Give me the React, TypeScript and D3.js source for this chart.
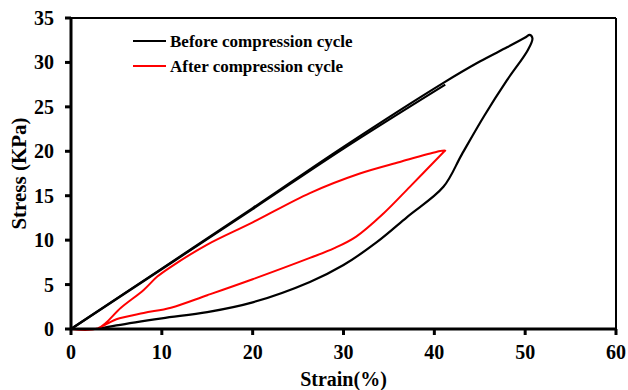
import React from 'react';
import * as d3 from 'd3';

// strain (%) , stress (KPa)
const beforeStrain = [0, 10, 20, 30, 41, 45, 48, 50, 50.5, 50.8, 50.3, 48, 45.5, 43, 41, 37, 33.7, 30, 26.3, 20, 15, 10, 5, 3];
const beforeStress = [0, 6.8, 13.6, 20.5, 27.7, 30.1, 31.7, 32.8, 33.1, 32.7, 31.4, 28, 24, 19.6, 16, 12.6, 9.8, 7.2, 5.3, 3, 1.9, 1.2, 0.4, 0];

const reloadStrain = [0, 20, 30, 41.2];
const reloadStress = [0, 13.5, 20.3, 27.5];

const afterStrain = [0, 3, 5.5, 8, 9.5, 11, 15, 20, 26.3, 31.8, 36.2, 40.3, 41.2, 41, 37.3, 34.4, 31.4, 29, 26.3, 20, 15, 11, 8, 5, 4, 3];
const afterStress = [0, 0.1, 2.4, 4.4, 5.9, 7, 9.5, 12, 15.3, 17.5, 18.8, 19.95, 20.1, 19.9, 16, 13, 10.4, 9.1, 8, 5.6, 3.8, 2.4, 1.8, 1.1, 0.6, 0.1];

const xTicks = [0, 10, 20, 30, 40, 50, 60];
const yTicks = [0, 5, 10, 15, 20, 25, 30, 35];
const legendLabels = ['Before compression cycle', 'After compression cycle'];

const W = 628;
const H = 390;
const font = 'Liberation Serif, Times New Roman, serif';

export default function App() {
  const x = d3.scaleLinear().domain([0, 60]).range([71, 616]);
  const y = d3.scaleLinear().domain([0, 35]).range([329, 18]);

  const line = d3
    .line<[number, number]>()
    .x(d => x(d[0]))
    .y(d => y(d[1]))
    .curve(d3.curveCatmullRom.alpha(0.5));

  const zip = (a: number[], b: number[]) => a.map((v, i) => [v, b[i]] as [number, number]);

  const before = zip(beforeStrain, beforeStress);
  const reload = zip(reloadStrain, reloadStress);
  const after = zip(afterStrain, afterStress);

  return (
    <div style={{ position: 'fixed', left: 0, top: 0 }}>
      <svg width={W} height={H} style={{ display: 'block', background: '#fff' }}>
        {/* frame */}
        <line x1={x(0)} x2={x(60)} y1={y(35)} y2={y(35)} stroke="#000" strokeWidth={2} />
        <line x1={x(60)} x2={x(60)} y1={y(35)} y2={y(0)} stroke="#000" strokeWidth={2} />

        <path d={line(before) || ''} fill="none" stroke="#000" strokeWidth={2.2} />
        <path d={line(reload) || ''} fill="none" stroke="#000" strokeWidth={2.2} />
        <path d={line(after) || ''} fill="none" stroke="#ff0000" strokeWidth={2} />

        {/* axes */}
        <line x1={x(0)} x2={x(60)} y1={y(0)} y2={y(0)} stroke="#000" strokeWidth={3} />
        <line x1={x(0)} x2={x(0)} y1={y(35)} y2={y(0)} stroke="#000" strokeWidth={3} />

        {xTicks.map(t => (
          <g key={'x' + t}>
            <line x1={x(t)} x2={x(t)} y1={y(0)} y2={y(0) + 6} stroke="#000" strokeWidth={3} />
            <text x={x(t)} y={359} textAnchor="middle" fontFamily={font} fontWeight="bold" fontSize={20}>
              {t}
            </text>
          </g>
        ))}
        {yTicks.map(t => (
          <g key={'y' + t}>
            <line x1={x(0) - 6} x2={x(0)} y1={y(t)} y2={y(t)} stroke="#000" strokeWidth={3} />
            <text x={54} y={y(t) + 7} textAnchor="end" fontFamily={font} fontWeight="bold" fontSize={20}>
              {t}
            </text>
          </g>
        ))}

        <text x={(x(0) + x(60)) / 2} y={386} textAnchor="middle" fontFamily={font} fontWeight="bold" fontSize={20}>
          Strain(%)
        </text>
        <text
          transform={`translate(26, ${(y(0) + y(35)) / 2}) rotate(-90)`}
          textAnchor="middle"
          fontFamily={font}
          fontWeight="bold"
          fontSize={21}
        >
          Stress (KPa)
        </text>

        {/* legend */}
        {legendLabels.map((l, i) => (
          <g key={l} transform={`translate(133, ${41 + i * 25})`}>
            <line x1={0} x2={33} y1={0} y2={0} stroke={i === 0 ? '#000' : '#ff0000'} strokeWidth={2.2} />
            <text x={37} y={5.5} fontFamily={font} fontWeight="bold" fontSize={17}>
              {l}
            </text>
          </g>
        ))}
      </svg>
    </div>
  );
}
